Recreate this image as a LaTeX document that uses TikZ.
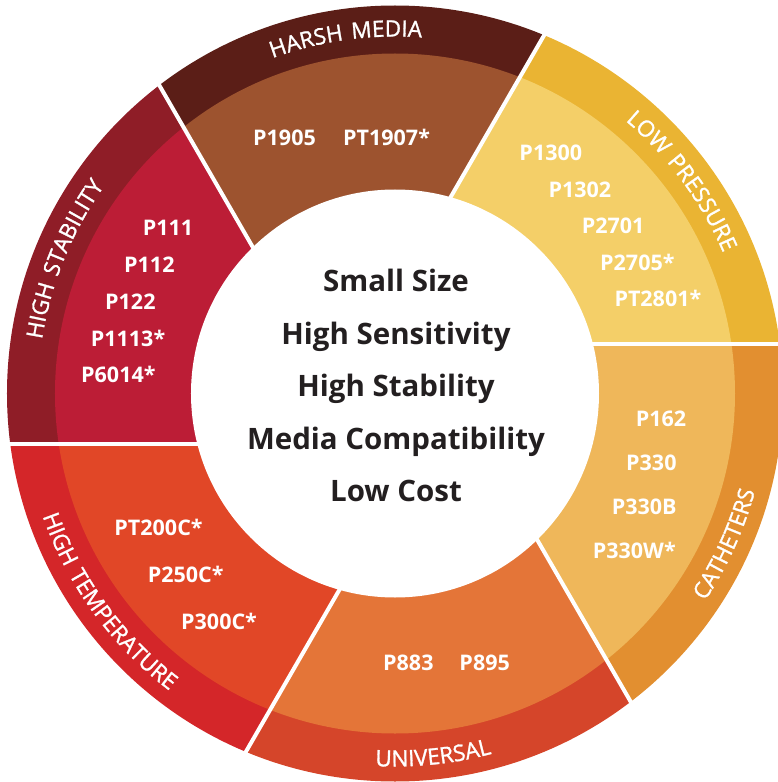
\documentclass[tikz,border=0pt]{standalone}
\usepackage{fontspec}
\setmainfont{Open Sans}
\newfontfamily\bandfont{Open Sans}[LetterSpace=11, FakeBold=1.2]
\usetikzlibrary{decorations.text}
\definecolor{lpB}{HTML}{EAB433}\definecolor{lpI}{HTML}{F4CF68}
\definecolor{hmB}{HTML}{5B1E17}\definecolor{hmI}{HTML}{9D532F}
\definecolor{hsB}{HTML}{8F1D27}\definecolor{hsI}{HTML}{BC1D36}
\definecolor{htB}{HTML}{D42629}\definecolor{htI}{HTML}{E14727}
\definecolor{unB}{HTML}{D5452A}\definecolor{unI}{HTML}{E47538}
\definecolor{caB}{HTML}{E28F30}\definecolor{caI}{HTML}{EFB75A}
\definecolor{txtdark}{HTML}{231F20}
\tikzset{
  centertxt/.style={font=\fontsize{29.5}{30}\selectfont\bfseries, text=txtdark, anchor=base, inner sep=0pt},
  prod/.style={font=\fontsize{21.5}{22}\selectfont\bfseries, text=white, anchor=base west, inner sep=0pt},
  bandlbl/.style={decorate, decoration={text along path, text align=center, text color=white, text={|\bandfont\fontsize{22.5}{23}\selectfont|#1}}},
  divider/.style={white, line width=4pt}
}
\begin{document}
\begin{tikzpicture}[x=1pt,y=1pt]
\useasboundingbox (-395,-388.5) rectangle (382,393.5);
% segments
\foreach \a/\cb/\ci in {0/lpB/lpI, 60/hmB/hmI, 120/hsB/hsI, 180/htB/htI, 240/unB/unI, 300/caB/caI}{
  \begin{scope}
    \coordinate (X) at ({\a+120}:57.735);
    \clip (X) -- ([shift={(X)}]{\a}:1000) -- ([shift={(X)}]{\a+30}:1200) -- ([shift={(X)}]{\a+60}:1000) -- cycle;
    \fill[\cb] (0,0) circle[radius=388pt];
    \fill[\ci] (0,0) circle[radius=340pt];
  \end{scope}
}
% dividers
\foreach \a in {0,60,...,300}{
  \draw[divider] ([shift={({\a+90}:50)}]{\a}:150) -- ([shift={({\a+90}:50)}]{\a}:420);
}
\fill[white] (0,0) circle[radius=204pt];
% center text
\node[centertxt] (c1) at (1,102) {Small Size};
\node[centertxt] (c2) at (1,49.5) {High Sensitivity};
\node[centertxt] (c3) at (1,-3) {High Stability};
\node[centertxt] (c4) at (1,-55.5) {Media Compatibility};
\node[centertxt] (c5) at (1,-108) {Low Cost};
% band labels
\path[bandlbl={HARSH MEDIA}] ({97.9+45}:357) arc[start angle={97.9+45}, end angle={97.9-45}, radius=357pt];
\path[bandlbl={LOW PRESSURE}] ({36.5+45}:357) arc[start angle={36.5+45}, end angle={36.5-45}, radius=357pt];
\path[bandlbl={HIGH STABILITY}] ({157.9+45}:357) arc[start angle={157.9+45}, end angle={157.9-45}, radius=357pt];
\path[bandlbl={CATHETERS}] ({-24.5-45}:373) arc[start angle={-24.5-45}, end angle={-24.5+45}, radius=373pt];
\path[bandlbl={UNIVERSAL}] ({-84-45}:373) arc[start angle={-84-45}, end angle={-84+45}, radius=373pt];
\path[bandlbl={HIGH TEMPERATURE}] ({-144-45}:373) arc[start angle={-144-45}, end angle={-144+45}, radius=373pt];
% products
\node[prod] (p1905) at (-142,247.5) {P1905};
\node[prod] (pt1907) at (-52,247.5) {PT1907*};
\node[prod] (p111) at (-252.3,157.5) {P111};
\node[prod] (p112) at (-271,120.8) {P112};
\node[prod] (p122) at (-290,84.5) {P122};
\node[prod] (p1113) at (-304.3,47.5) {P1113*};
\node[prod] (p6014) at (-314,10.8) {P6014*};
\node[prod] (p1300) at (124.3,232.8) {P1300};
\node[prod] (p1302) at (153.3,196.2) {P1302};
\node[prod] (p2701) at (186.7,160.2) {P2701};
\node[prod] (p2705) at (205,123.5) {P2705*};
\node[prod] (pt2801) at (219.3,86.8) {PT2801*};
\node[prod] (p162) at (240.7,-32.5) {P162};
\node[prod] (p330) at (231,-76.5) {P330};
\node[prod] (p330b) at (216.7,-120.8) {P330B};
\node[prod] (p330w) at (197.7,-164.8) {P330W*};
\node[prod] (p883) at (-12,-276.5) {P883};
\node[prod] (p895) at (64.3,-276.5) {P895};
\node[prod] (pt200c) at (-280.7,-142.2) {PT200C*};
\node[prod] (p250c) at (-247.3,-188.8) {P250C*};
\node[prod] (p300c) at (-214,-235.8) {P300C*};
\end{tikzpicture}
\end{document}
